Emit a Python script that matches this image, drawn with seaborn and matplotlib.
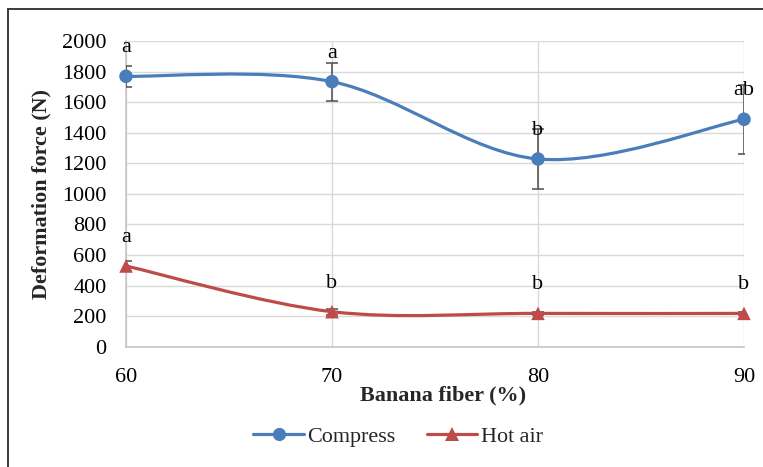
import numpy as np
import pandas as pd
import matplotlib
matplotlib.use("Agg")
import matplotlib.pyplot as plt
from matplotlib.path import Path
from matplotlib.patches import PathPatch, Rectangle
from matplotlib.lines import Line2D
import seaborn as sns

# Data
fiber = [60, 70, 80, 90]
compress = [1769, 1734, 1228, 1488]
compress_sd = [68, 124, 196, 225]
compress_letters = ["a", "a", "b", "ab"]
hot_air = [528, 229, 218, 218]
hot_air_sd = [30, 20, 8, 8]
hot_air_letters = ["a", "b", "b", "b"]
y_ticks = [0, 200, 400, 600, 800, 1000, 1200, 1400, 1600, 1800, 2000]
x_ticks = [60, 70, 80, 90]

df = pd.DataFrame({
    "fiber": fiber * 2,
    "force": compress + hot_air,
    "sd": compress_sd + hot_air_sd,
    "method": ["Compress"] * 4 + ["Hot air"] * 4,
})

sns.set_theme(style="white")
plt.rcParams["font.family"] = ["Liberation Serif", "DejaVu Serif"]

BLUE = "#4a7ebb"
RED = "#be4b48"
colors = {"Compress": BLUE, "Hot air": RED}
markers = {"Compress": "o", "Hot air": "^"}
FS = 15.9

fig = plt.figure(figsize=(7.63, 4.67), dpi=100)
ax = fig.add_axes([126 / 763, 1 - 346.7 / 467, (744 - 126) / 763, (346.7 - 41) / 467])


def smooth_path(xs, ys):
    """Cubic Bezier path through the points (Catmull-Rom style tangents)."""
    pts = np.column_stack([xs, ys]).astype(float)
    n = len(pts)
    verts = [pts[0]]
    codes = [Path.MOVETO]
    for i in range(n - 1):
        p_prev = pts[i - 1] if i > 0 else pts[i]
        p_next2 = pts[i + 2] if i + 2 < n else pts[i + 1]
        c1 = pts[i] + (pts[i + 1] - p_prev) / 6.0
        c2 = pts[i + 1] - (p_next2 - pts[i]) / 6.0
        verts += [c1, c2, pts[i + 1]]
        codes += [Path.CURVE4] * 3
    return Path(verts, codes)


for name, sub in df.groupby("method"):
    c = colors[name]
    ax.errorbar(sub["fiber"], sub["force"], yerr=sub["sd"], fmt="none",
                ecolor="#4d4d4d", elinewidth=1.1, capsize=4.5, capthick=1.1,
                zorder=3)
    ax.add_patch(PathPatch(smooth_path(sub["fiber"], sub["force"]),
                           facecolor="none", edgecolor=c, lw=2.3,
                           capstyle="round", zorder=4))

sns.scatterplot(data=df, x="fiber", y="force", hue="method", style="method",
                palette=colors, markers=markers, s=95, edgecolor="none",
                legend=False, ax=ax, zorder=5, clip_on=False)

for vals, letters in ((compress, compress_letters), (hot_air, hot_air_letters)):
    for x, v, t in zip(fiber, vals, letters):
        ax.annotate(t, (x, v), xytext=(0, 20.5), textcoords="offset points",
                    ha="center", va="center", fontsize=FS, color="black",
                    zorder=6)

ax.set_xlim(60, 90)
ax.set_ylim(0, 2000)
ax.set_xticks(x_ticks)
ax.set_yticks(y_ticks)
ax.set_xticklabels([str(v) for v in x_ticks])
ax.set_yticklabels([str(v) for v in y_ticks])
ax.tick_params(axis="both", length=0, labelsize=FS, colors="black")
ax.tick_params(axis="y", pad=14)
ax.tick_params(axis="x", pad=15)
ax.grid(True, color="#d9d9d9", lw=1.0)
ax.set_axisbelow(True)
for s in ("top", "right"):
    ax.spines[s].set_visible(False)
for s in ("left", "bottom"):
    ax.spines[s].set_color("#c6c6c6")
    ax.spines[s].set_linewidth(1.2)
ax.set_xlabel("")
ax.set_ylabel("")

fig.text(41.5 / 763, 1 - 194 / 467, "Deformation force (N)", rotation=90,
         ha="center", va="center", fontsize=FS, fontweight="bold")
fig.text(443 / 763, 1 - 395 / 467, "Banana fiber (%)", ha="center",
         va="center", fontsize=FS, fontweight="bold")

handles = [Line2D([], [], color=colors[k], lw=2.3, marker=markers[k],
                  markersize=9.5, markeredgewidth=0) for k in ["Compress", "Hot air"]]
fig.legend(handles, ["Compress", "Hot air"], loc="center",
           bbox_to_anchor=(398 / 763, 1 - 437 / 467), ncol=2, frameon=False,
           fontsize=FS, handlelength=2.3, handletextpad=0.15, columnspacing=1.4)

# outer chart border
fig.patches.append(Rectangle((8 / 763, -0.05), 1.0, 1 - 9 / 467 + 0.05,
                             transform=fig.transFigure, fill=False,
                             edgecolor="#3a3a3a", lw=1.4, zorder=10))

fig.savefig("out.png", dpi=100)
